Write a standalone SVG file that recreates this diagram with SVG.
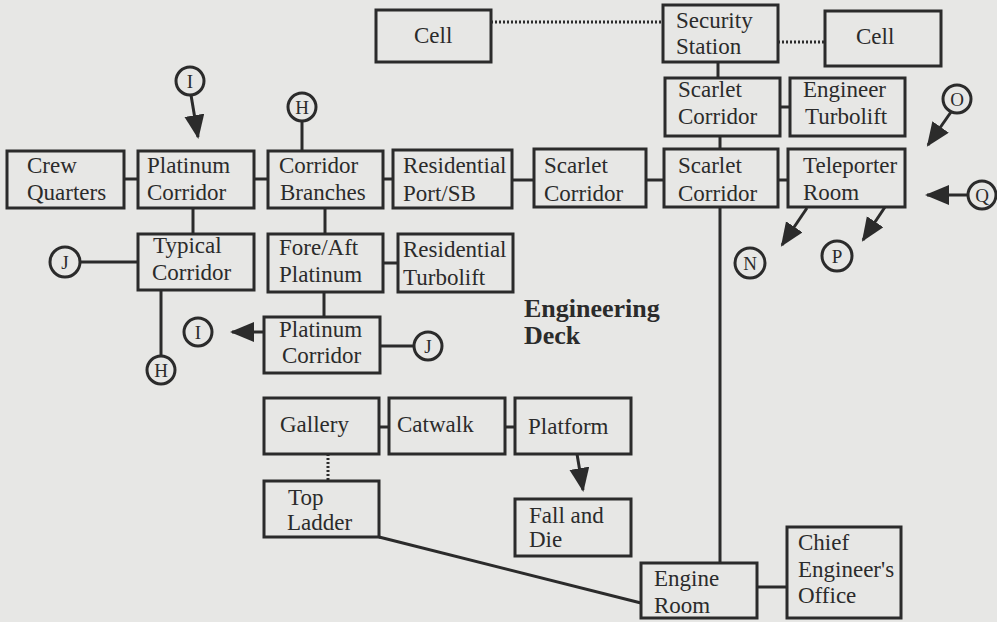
<svg xmlns="http://www.w3.org/2000/svg" width="997" height="622" viewBox="0 0 997 622">
<defs>
<style>
.bx{fill:none;stroke:#2b2b2b;stroke-width:3}
text{font-family:'Liberation Serif','Times New Roman',Times,'DejaVu Serif',serif;fill:#2b2b2b}
.t{font-size:23px}
.b{font-size:26px;font-weight:bold}
.c{fill:none;stroke:#2b2b2b;stroke-width:3}
.ct{font-size:19px;text-anchor:middle}
.ln{fill:none;stroke:#2b2b2b;stroke-width:3}
.dot{fill:none;stroke:#2b2b2b;stroke-width:3;stroke-dasharray:2 2}
.ar{fill:none;stroke:#2b2b2b;stroke-width:3;marker-end:url(#ah)}
</style>
<marker id="ah" markerUnits="userSpaceOnUse" markerWidth="26" markerHeight="22" refX="22" refY="10" orient="auto" viewBox="0 0 26 22">
<path d="M0,0 L24,10 L0,20 Z" fill="#2b2b2b"/>
</marker>
</defs>
<rect x="0" y="0" width="997" height="622" fill="#e7e7e5"/>

<g id="connectors">
<line class="dot" x1="491" y1="22" x2="663" y2="22"/>
<line class="dot" x1="778" y1="42" x2="825" y2="42"/>
<line class="ln" x1="718" y1="62" x2="718" y2="78"/>
<line class="ln" x1="780" y1="107" x2="790" y2="107"/>
<line class="ln" x1="720" y1="136" x2="720" y2="149"/>
<line class="ln" x1="124" y1="179" x2="138" y2="179"/>
<line class="ln" x1="254" y1="179" x2="268" y2="179"/>
<line class="ln" x1="383" y1="179" x2="393" y2="179"/>
<line class="ln" x1="512" y1="180" x2="534" y2="180"/>
<line class="ln" x1="646" y1="180" x2="664" y2="180"/>
<line class="ln" x1="778" y1="180" x2="788" y2="180"/>
<line class="ln" x1="193" y1="208" x2="193" y2="234"/>
<line class="ln" x1="325" y1="208" x2="325" y2="234"/>
<line class="ln" x1="383" y1="263" x2="398" y2="263"/>
<line class="ln" x1="80" y1="262" x2="138" y2="262"/>
<line class="ln" x1="161" y1="290" x2="161" y2="355"/>
<line class="ln" x1="324" y1="292" x2="324" y2="317"/>
<line class="ln" x1="380" y1="346" x2="413" y2="346"/>
<line class="ln" x1="302" y1="121" x2="302" y2="151"/>
<line class="ln" x1="720" y1="207" x2="720" y2="563"/>
<line class="ln" x1="379" y1="427" x2="389" y2="427"/>
<line class="ln" x1="505" y1="427" x2="515" y2="427"/>
<line class="dot" x1="328" y1="454" x2="328" y2="481"/>
<line class="ln" x1="379" y1="537" x2="641" y2="603"/>
<line class="ln" x1="757" y1="587" x2="787" y2="587"/>
<line class="ar" x1="191" y1="95" x2="198" y2="137"/>
<line class="ar" x1="264" y1="332" x2="232" y2="332"/>
<line class="ar" x1="951" y1="112" x2="928" y2="145"/>
<line class="ar" x1="967" y1="195" x2="927" y2="195"/>
<line class="ar" x1="807" y1="208" x2="782" y2="245"/>
<line class="ar" x1="885" y1="207" x2="863" y2="240"/>
<line class="ar" x1="577" y1="454" x2="583" y2="490"/>
</g>

<g id="cell1"><rect class="bx" x="376" y="10" width="115" height="52"/><text class="t" x="414" y="43">Cell</text></g>
<g id="security"><rect class="bx" x="663" y="5" width="115" height="57"/><text class="t" x="676" y="28">Security</text><text class="t" x="676" y="54">Station</text></g>
<g id="cell2"><rect class="bx" x="825" y="11" width="116" height="55"/><text class="t" x="856" y="44">Cell</text></g>
<g id="scarlet1"><rect class="bx" x="665" y="78" width="115" height="58"/><text class="t" x="678" y="97">Scarlet</text><text class="t" x="678" y="124">Corridor</text></g>
<g id="engturbo"><rect class="bx" x="790" y="78" width="115" height="58"/><text class="t" x="803" y="97">Engineer</text><text class="t" x="805" y="124">Turbolift</text></g>

<g id="crew"><rect class="bx" x="7" y="151" width="117" height="57"/><text class="t" x="27" y="173">Crew</text><text class="t" x="27" y="200">Quarters</text></g>
<g id="plat1"><rect class="bx" x="138" y="151" width="116" height="57"/><text class="t" x="147" y="173">Platinum</text><text class="t" x="147" y="200">Corridor</text></g>
<g id="branches"><rect class="bx" x="268" y="151" width="115" height="57"/><text class="t" x="279" y="173">Corridor</text><text class="t" x="280" y="200">Branches</text></g>
<g id="resport"><rect class="bx" x="393" y="150" width="119" height="58"/><text class="t" x="403" y="173">Residential</text><text class="t" x="403" y="201">Port/SB</text></g>
<g id="scarlet2"><rect class="bx" x="534" y="149" width="112" height="58"/><text class="t" x="544" y="173">Scarlet</text><text class="t" x="544" y="201">Corridor</text></g>
<g id="scarlet3"><rect class="bx" x="664" y="149" width="114" height="58"/><text class="t" x="678" y="173">Scarlet</text><text class="t" x="678" y="201">Corridor</text></g>
<g id="teleporter"><rect class="bx" x="788" y="149" width="117" height="58"/><text class="t" x="803" y="173">Teleporter</text><text class="t" x="803" y="200">Room</text></g>

<g id="typical"><rect class="bx" x="138" y="234" width="116" height="56"/><text class="t" x="153" y="253">Typical</text><text class="t" x="152" y="280">Corridor</text></g>
<g id="foreaft"><rect class="bx" x="268" y="234" width="115" height="58"/><text class="t" x="279" y="255">Fore/Aft</text><text class="t" x="279" y="282">Platinum</text></g>
<g id="resturbo"><rect class="bx" x="398" y="234" width="115" height="58"/><text class="t" x="403" y="257">Residential</text><text class="t" x="403" y="285">Turbolift</text></g>
<g id="plat2"><rect class="bx" x="264" y="317" width="116" height="56"/><text class="t" x="279" y="337">Platinum</text><text class="t" x="282" y="363">Corridor</text></g>

<g id="label"><text class="b" x="524" y="317">Engineering</text><text class="b" x="524" y="344">Deck</text></g>

<g id="gallery"><rect class="bx" x="264" y="398" width="115" height="56"/><text class="t" x="280" y="432">Gallery</text></g>
<g id="catwalk"><rect class="bx" x="389" y="398" width="116" height="56"/><text class="t" x="397" y="432">Catwalk</text></g>
<g id="platform"><rect class="bx" x="515" y="398" width="116" height="56"/><text class="t" x="528" y="434">Platform</text></g>
<g id="topladder"><rect class="bx" x="264" y="481" width="115" height="56"/><text class="t" x="288" y="505">Top</text><text class="t" x="287" y="530">Ladder</text></g>
<g id="fall"><rect class="bx" x="515" y="499" width="116" height="57"/><text class="t" x="529" y="523">Fall and</text><text class="t" x="529" y="547">Die</text></g>
<g id="engine"><rect class="bx" x="641" y="563" width="116" height="55"/><text class="t" x="654" y="586">Engine</text><text class="t" x="654" y="613">Room</text></g>
<g id="chief"><rect class="bx" x="787" y="527" width="114" height="91"/><text class="t" x="798" y="550">Chief</text><text class="t" x="798" y="577">Engineer's</text><text class="t" x="798" y="603">Office</text></g>

<g id="refI1"><circle class="c" cx="190" cy="81" r="14"/><text class="ct" x="190" y="88">I</text></g>
<g id="refH1"><circle class="c" cx="302" cy="107" r="14"/><text class="ct" x="302" y="114">H</text></g>
<g id="refO"><circle class="c" cx="957" cy="99" r="14"/><text class="ct" x="957" y="106">O</text></g>
<g id="refQ"><circle class="c" cx="982" cy="195" r="14"/><text class="ct" x="982" y="202">Q</text></g>
<g id="refN"><circle class="c" cx="750" cy="263" r="15"/><text class="ct" x="750" y="270">N</text></g>
<g id="refP"><circle class="c" cx="837" cy="256" r="15"/><text class="ct" x="837" y="263">P</text></g>
<g id="refJ1"><circle class="c" cx="65" cy="262" r="15"/><text class="ct" x="65" y="269">J</text></g>
<g id="refH2"><circle class="c" cx="161" cy="370" r="14"/><text class="ct" x="161" y="377">H</text></g>
<g id="refI2"><circle class="c" cx="198" cy="332" r="14"/><text class="ct" x="198" y="339">I</text></g>
<g id="refJ2"><circle class="c" cx="428" cy="346" r="14"/><text class="ct" x="428" y="353">J</text></g>
</svg>
